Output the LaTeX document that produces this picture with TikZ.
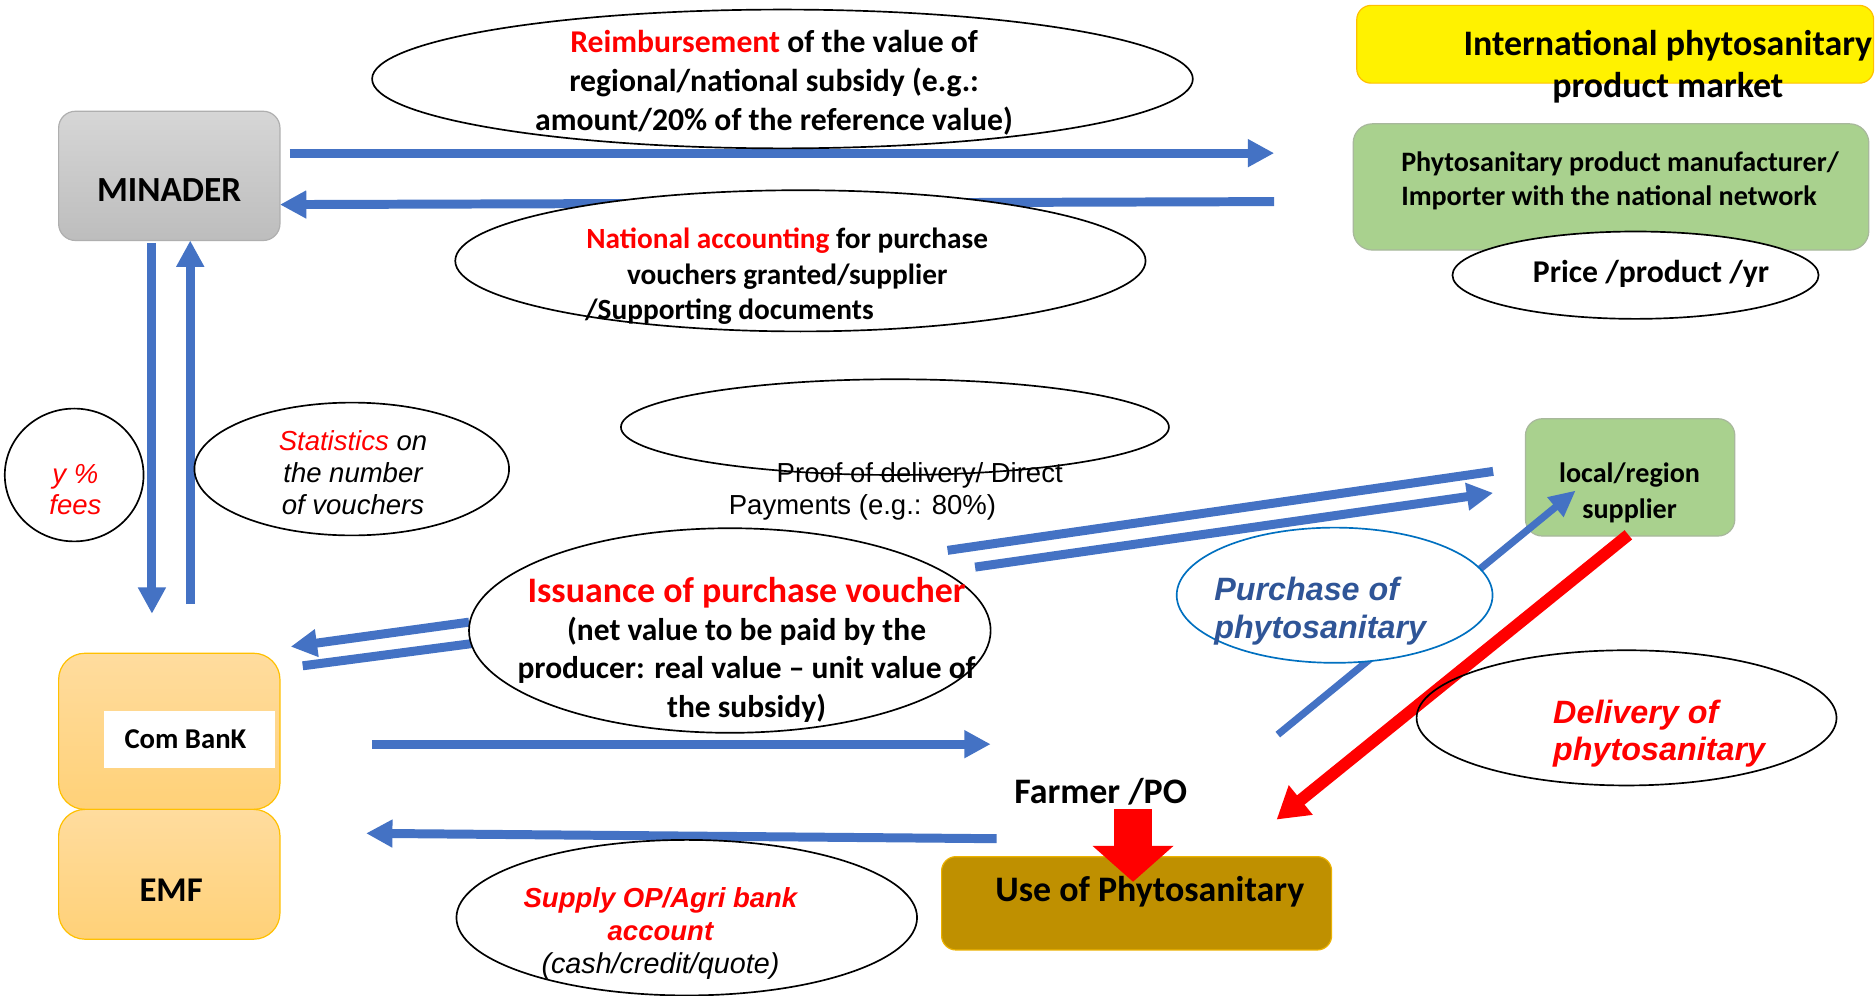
\documentclass[tikz,border=0pt]{standalone}
\usepackage{fontspec}
\setmainfont{Carlito}
\newfontfamily\arialf{Liberation Sans}
\usetikzlibrary{arrows.meta,shapes.geometric}
\definecolor{ablue}{HTML}{4472C4}
\definecolor{tblue}{HTML}{2F5597}
\definecolor{eblue}{HTML}{0070C0}
\definecolor{gold}{HTML}{FFC000}
\definecolor{lgreen}{HTML}{A9D18E}
\definecolor{gborder}{HTML}{A8B89C}
\definecolor{usefill}{HTML}{BF9000}
\definecolor{orT}{HTML}{FFDC9E}
\definecolor{orB}{HTML}{FFD178}
\definecolor{grT}{HTML}{D6D6D6}
\definecolor{grB}{HTML}{BDBDBD}
\definecolor{grD}{HTML}{AFAFAF}
\newcommand{\setfs}[2]{\fontsize{#1pt}{#2pt}\selectfont}
\begin{document}
\begin{tikzpicture}[x=1pt,y=-1pt,
  rbox/.style={rectangle, inner sep=0pt, rounded corners=14pt},
  ell/.style={ellipse, draw=black, line width=1.4pt, fill=white, inner sep=0pt},
  lbl/.style={inner sep=0pt, align=center},
  ar/.style={draw=ablue, line width=7.5pt, -{Triangle[length=22pt,width=22pt]}},
  bl/.style={draw=ablue, line width=7.5pt}
]
\useasboundingbox (0,0) rectangle (1568,832);
\fill[white] (0,0) rectangle (1568,832);

% ---------- boxes
\node[rbox, minimum width=185pt, minimum height=108pt, top color=grT, bottom color=grB, draw=grD, line width=1pt] (minader) at (141.5,147) {};
\node[rbox, rounded corners=12pt, minimum width=432pt, minimum height=65pt, fill=yellow, draw=gold, line width=1pt] (intl) at (1350,37) {};
\node[rbox, rounded corners=16pt, minimum width=431pt, minimum height=105.5pt, fill=lgreen, draw=gborder, line width=1pt] (manuf) at (1346.5,156.25) {};
\node[rbox, minimum width=175pt, minimum height=98pt, fill=lgreen, draw=gborder, line width=1pt] (local) at (1362.5,399) {};
\node[rbox, rounded corners=22pt, minimum width=185pt, minimum height=130.5pt, top color=orT, bottom color=orB, draw=gold, line width=1pt] (combank) at (141.5,611.25) {};
\node[rbox, rounded corners=22pt, minimum width=185pt, minimum height=108.5pt, top color=orT, bottom color=orB, draw=gold, line width=1pt] (emf) at (141.5,730.75) {};
\node[rectangle, inner sep=0pt, minimum width=143pt, minimum height=48pt, fill=white] (cbtag) at (158.5,618) {};
\node[rbox, rounded corners=12pt, minimum width=326pt, minimum height=78pt, fill=usefill, draw=gold!70!usefill, line width=1pt] (use) at (950,755) {};

% ---------- connector end points
\coordinate (a1s) at (242,128);   \coordinate (a1e) at (1065,128);
\coordinate (a2s) at (1065,168.5); \coordinate (a2e) at (234,171);
\coordinate (a3s) at (127,203);   \coordinate (a3e) at (127,513);
\coordinate (a4s) at (159,505);   \coordinate (a4e) at (159,201);
\coordinate (a5s) at (392,520);   \coordinate (a5e) at (243,540.5);
\coordinate (a6s) at (409,536);   \coordinate (a6e) at (253,556.5);
\coordinate (a7s) at (311,622);   \coordinate (a7e) at (828,622);
\coordinate (a8s) at (833,701);   \coordinate (a8e) at (306,696.5);
\coordinate (a9s) at (792,460);   \coordinate (a9e) at (1248,394);
\coordinate (a10s) at (815,474);  \coordinate (a10e) at (1248,412);
\coordinate (a11s) at (1068,614); \coordinate (a11e) at (1317,410);
\coordinate (a12s) at (1361,447); \coordinate (a12e) at (1067,685);
\coordinate (a13s) at (947,676.5); \coordinate (a13e) at (947,737);

% ---------- blue connectors
\draw[ar] (a1s) -- (a1e);
\draw[ar] (a2s) -- (a2e);
\draw[ar] (a3s) -- (a3e);
\draw[ar] (a4s) -- (a4e);
\draw[ar] (a5s) -- (a5e);
\draw[bl] (a6s) -- (a6e);
\draw[ar] (a7s) -- (a7e);
\draw[ar] (a8s) -- (a8e);
\draw[bl] (a9s) -- (a9e);
\draw[ar] (a10s) -- (a10e);
\draw[draw=ablue, line width=6pt, -{Triangle[length=22pt,width=20pt]}] (a11s) -- (a11e);

% ---------- ellipses
\node[ell, minimum width=686pt, minimum height=116pt] (ereimb) at (654,66) {};
\node[ell, minimum width=577pt, minimum height=118pt] (enatl) at (669,218) {};
\node[ell, minimum width=306pt, minimum height=73pt] (eprice) at (1367,230) {};
\node[ell, minimum width=116pt, minimum height=111pt] (efees) at (62,397) {};
\node[ell, minimum width=263pt, minimum height=111pt] (estat) at (294,392) {};
\node[ell, minimum width=458pt, minimum height=80pt] (eproof) at (748,357) {};
\node[ell, minimum width=436pt, minimum height=171pt] (eissue) at (610,527) {};
\node[ell, draw=eblue, minimum width=264pt, minimum height=113pt] (epurch) at (1115.5,497.5) {};
\node[ell, minimum width=385pt, minimum height=130pt] (esupply) at (574,767) {};

% ---------- red connectors
\draw[red, line width=10pt, -{Triangle[length=26pt,width=30pt]}] (a12s) -- (a12e);
\node[ell, fill=none, minimum width=351pt, minimum height=113pt] (edeliv) at (1359.5,600) {};
\draw[red, line width=32pt, -{Triangle[length=30pt,width=66pt]}] (a13s) -- (a13e);

% ---------- texts
\node[lbl, font={\bfseries\setfs{30}{35}}] (tintl) at (1394,56) {International phytosanitary\\product market};
\node[lbl, font={\bfseries\setfs{26.5}{32.5}}] (treimb) at (647,69) {\textcolor{red}{Reimbursement} of the value of\\regional/national subsidy (e.g.:\\amount/20\% of the reference value)};
\node[lbl, font={\bfseries\setfs{24.5}{29.5}}] (tnatl) at (658,231) {\textcolor{red}{National accounting} for purchase\\vouchers granted/supplier\\\makebox[338pt][l]{/Supporting documents}};
\node[lbl, align=left, anchor=west, font={\bfseries\setfs{23.5}{28.5}}] (tmanuf) at (1171,151) {Phytosanitary product manufacturer/\\Importer with the national network};
\node[lbl, font={\bfseries\setfs{26.5}{32}}] (tprice) at (1380,229) {Price /product /yr};
\node[lbl, font={\bfseries\setfs{29.5}{35}}] (tminader) at (141.4,158.8) {MINADER};
\node[lbl, text=red, font={\arialf\itshape\setfs{23}{26}}] (tfees) at (63,409) {y \%\\fees};
\node[lbl, font={\arialf\itshape\setfs{23}{27}}] (tstat) at (295,395) {\textcolor{red}{Statistics} on\\the number\\of vouchers};
\node[lbl, align=left, anchor=west, font={\arialf\setfs{23}{26.5}}] (tproof) at (609,411) {\hspace*{40pt}Proof of delivery/ Direct\\Payments (e.g.: 80\%)};
\node[lbl, font={\bfseries\setfs{23.5}{29.5}}] (tlocal) at (1362,412) {local/region\\supplier};
\node[lbl, font={\bfseries\setfs{26.3}{32}}] (tissue) at (624,543) {{\setfs{30}{32}\textcolor{red}{Issuance of purchase voucher}}\\(net value to be paid by the\\producer: real value – unit value of\\the subsidy)};
\node[lbl, font={\bfseries\setfs{24}{28}}] (tcb) at (155,618) {Com BanK};
\node[lbl, font={\bfseries\setfs{29}{35}}] (temf) at (143,744) {EMF};
\node[lbl, font={\bfseries\setfs{30}{35}}] (tfarmer) at (920,662) {Farmer /PO};
\node[lbl, font={\bfseries\setfs{30}{35}}] (tuse) at (961,745) {Use of Phytosanitary};
\node[lbl, align=left, anchor=west, text=tblue, font={\arialf\bfseries\itshape\setfs{27}{32}}] (tpurch) at (1014.7,511) {Purchase of\\phytosanitary};
\node[lbl, align=left, anchor=west, text=red, font={\arialf\bfseries\itshape\setfs{27}{31}}] (tdeliv) at (1298,613) {Delivery of\\phytosanitary};
\node[lbl, font={\arialf\itshape\setfs{23}{27.5}}] (tsupply) at (552,780) {\textcolor{red}{\bfseries Supply OP/Agri bank}\\\textcolor{red}{\bfseries account}\\{\setfs{24}{27.5}(cash/credit/quote)}};
\end{tikzpicture}
\end{document}
